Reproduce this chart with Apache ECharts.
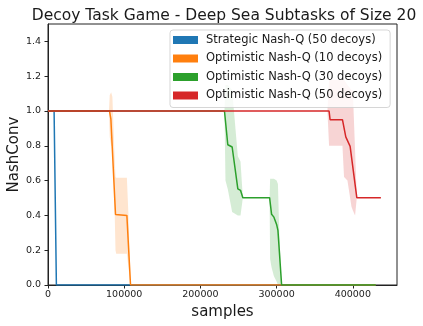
<!DOCTYPE html>
<html>
<head>
<meta charset="utf-8">
<script src="https://cdn.jsdelivr.net/npm/echarts@6/dist/echarts.min.js"></script>
<style>
html,body{margin:0;padding:0;background:#fff;}
#c{width:423px;height:326px;}
</style>
</head>
<body>
<div id="c"></div>
<script>
// ---- data ----
const seriesNames = ['Strategic Nash-Q (50 decoys)', 'Optimistic Nash-Q (10 decoys)', 'Optimistic Nash-Q (30 decoys)', 'Optimistic Nash-Q (50 decoys)'];
const xTicks = [0, 100000, 200000, 300000, 400000];
const yTicks = [0, 0.2, 0.4, 0.6, 0.8, 1.0, 1.2, 1.4];

const blueX = [0, 8000, 11000, 430000];
const blueMean = [1, 1, 0, 0];

const orangeX = [0, 80700, 82500, 83800, 88600, 103500, 108300, 430000];
const orangeMean = [1, 1, 0.955, 0.95, 0.405, 0.40, 0, 0];
const orangeBandX = [80000, 81000, 82900, 84500, 86800, 88600, 89500, 103500, 105600, 108300];
const orangeLow = [1.0, 0.85, 0.80, 0.80, 0.55, 0.20, 0.18, 0.18, 0.10, 0];
const orangeHigh = [1.0, 1.09, 1.108, 1.08, 0.80, 0.62, 0.617, 0.617, 0.40, 0];

const greenX = [0, 231580, 235960, 241670, 242540, 249120, 252630, 255700, 290790, 293420, 296490, 300000, 301750, 306580, 430000];
const greenMean = [1, 1, 0.806, 0.793, 0.79, 0.553, 0.544, 0.502, 0.502, 0.406, 0.39, 0.348, 0.314, 0, 0];
const greenBandX = [231580, 232900, 235960, 241670, 249120, 252630, 255700, 290790, 291500, 293420, 296490, 300000, 301750, 303500, 306580];
const greenLow = [1.0, 0.60, 0.55, 0.42, 0.40, 0.40, 0.502, 0.502, 0.15, 0.10, 0.05, 0.02, 0.0, 0.0, 0];
const greenHigh = [1.0, 1.15, 1.15, 1.12, 0.74, 0.71, 0.502, 0.502, 0.61, 0.61, 0.61, 0.60, 0.58, 0.30, 0];

const redX = [0, 368860, 370180, 386400, 390790, 392980, 396490, 398250, 405260, 436840];
const redMean = [1, 1, 0.95, 0.95, 0.851, 0.848, 0.797, 0.79, 0.502, 0.502];
const redBandX = [366700, 368860, 386400, 388500, 392980, 398250, 400000, 403000, 405260];
const redLow = [1.0, 0.80, 0.80, 0.62, 0.60, 0.45, 0.43, 0.40, 0.502];
const redHigh = [1.0, 1.18, 1.18, 1.18, 1.15, 1.12, 1.12, 0.77, 0.502];

const colors = ['#1f77b4', '#ff7f0e', '#2ca02c', '#d62728'];
const bandColors = ['rgba(31,119,180,0.2)', 'rgba(255,127,14,0.2)', 'rgba(44,160,44,0.2)', 'rgba(214,39,40,0.2)'];

// ---- helpers ----
function pairs(xs, ys) { return xs.map((x, i) => [x, ys[i]]); }
function lineSeries(i, xs, ys) {
  return {
    name: seriesNames[i], type: 'line', data: pairs(xs, ys),
    showSymbol: false, symbol: 'none',
    lineStyle: { width: 1.5, color: colors[i] }, itemStyle: { color: colors[i] },
    clip: true, silent: true
  };
}
function bandSeries(i, xs, lo, hi) {
  return {
    type: 'custom', silent: true, clip: true,
    data: xs.map((x, k) => [x, lo[k], hi[k]]),
    encode: { x: 0, y: [1, 2] },
    renderItem: function (params, api) {
      if (params.dataIndex !== 0) return null;
      const pts = [];
      for (let k = 0; k < xs.length; k++) pts.push(api.coord([xs[k], hi[k]]));
      for (let k = xs.length - 1; k >= 0; k--) pts.push(api.coord([xs[k], lo[k]]));
      return { type: 'polygon', shape: { points: pts }, style: { fill: bandColors[i], stroke: null } };
    }
  };
}

const chart = echarts.init(document.getElementById('c'), null, { renderer: 'canvas' });
const font = 'DejaVu Sans';
chart.setOption({
  animation: false,
  backgroundColor: '#fff',
  title: {
    text: 'Decoy Task Game - Deep Sea Subtasks of Size 20',
    left: 219, top: 3, textAlign: 'center',
    textStyle: { fontFamily: font, fontSize: 15.5, fontWeight: 'normal', color: '#1a1a1a' }
  },
  grid: { left: 48, right: 26, top: 24, bottom: 41, show: true, borderColor: '#222', borderWidth: 1, containLabel: false, outerBoundsMode: 'none' },
  legend: {
    data: seriesNames.map((n, i) => ({ name: n, icon: 'rect', itemStyle: { color: colors[i] } })),
    orient: 'vertical', left: 170, top: 30,
    itemWidth: 25, itemHeight: 8, itemGap: 6.5,
    padding: [4, 8, 6, 3],
    backgroundColor: 'rgba(255,255,255,0.8)', borderColor: 'rgba(204,204,204,0.8)', borderWidth: 1, borderRadius: 3,
    textStyle: { fontFamily: font, fontSize: 11.5, color: '#1a1a1a', padding: [0, 0, 0, 3] },
    selectedMode: false
  },
  xAxis: {
    type: 'value', min: 0, max: 458000,
    name: 'samples', nameLocation: 'middle', nameGap: 20, nameMoveOverlap: false,
    nameTextStyle: { fontFamily: font, fontSize: 15, color: '#1a1a1a' },
    axisLine: { show: true, lineStyle: { color: '#222', width: 1 } },
    axisTick: { show: true, length: 3.5, lineStyle: { color: '#222' }, customValues: xTicks },
    axisLabel: { fontFamily: font, fontSize: 9.5, color: '#222', margin: 5, customValues: xTicks, formatter: v => String(v) },
    splitLine: { show: false }
  },
  yAxis: {
    type: 'value', min: 0, max: 1.5,
    name: 'NashConv', nameLocation: 'middle', nameGap: 26, nameMoveOverlap: false,
    nameTextStyle: { fontFamily: font, fontSize: 15, color: '#1a1a1a' },
    axisLine: { show: true, lineStyle: { color: '#222', width: 1 } },
    axisTick: { show: true, length: 3.5, lineStyle: { color: '#222' }, customValues: yTicks },
    axisLabel: { fontFamily: font, fontSize: 9.5, color: '#222', margin: 7, customValues: yTicks, formatter: v => v.toFixed(1) },
    splitLine: { show: false }
  },
  series: [
    lineSeries(0, blueX, blueMean),
    bandSeries(1, orangeBandX, orangeLow, orangeHigh),
    lineSeries(1, orangeX, orangeMean),
    bandSeries(2, greenBandX, greenLow, greenHigh),
    lineSeries(2, greenX, greenMean),
    bandSeries(3, redBandX, redLow, redHigh),
    lineSeries(3, redX, redMean)
  ]
});
</script>
</body>
</html>
